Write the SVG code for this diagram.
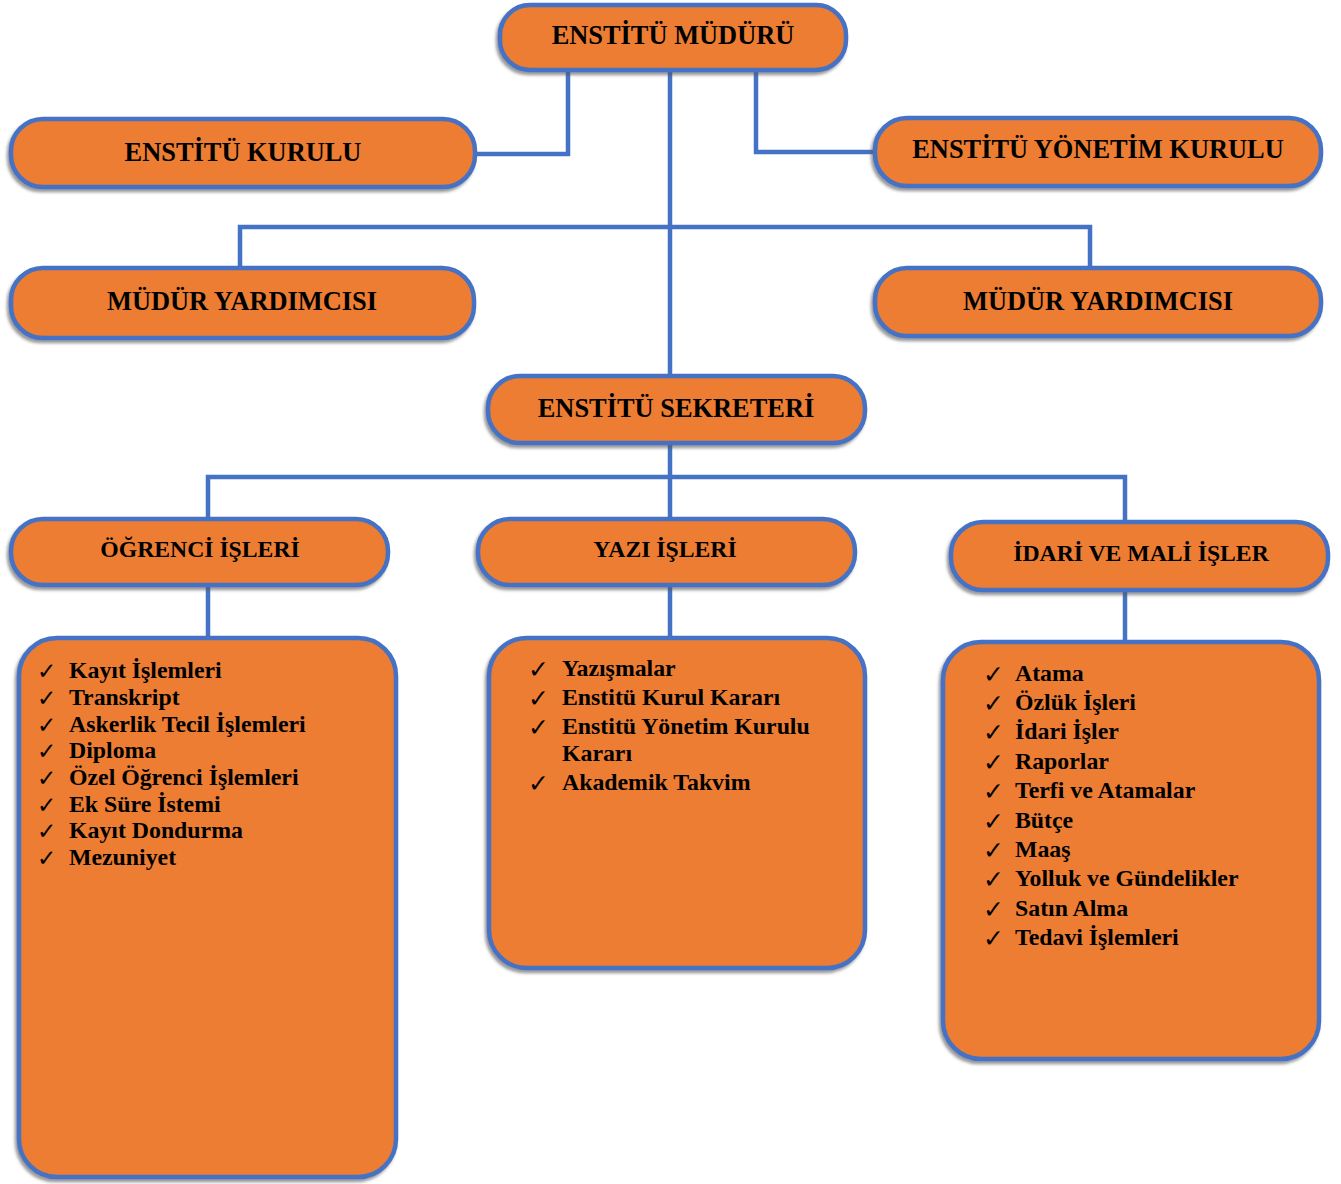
<svg xmlns="http://www.w3.org/2000/svg" width="1341" height="1184" viewBox="0 0 1341 1184">
<defs>
<filter id="sh" x="-5%" y="-10%" width="110%" height="125%">
<feDropShadow dx="-2" dy="3" stdDeviation="1.5" flood-color="#555" flood-opacity="0.6"/>
</filter>
</defs>
<style>
.box{fill:#ED7D31;stroke:#4472C4;stroke-width:4.5;filter:url(#sh)}
.t{font-family:"Liberation Serif","Times New Roman",serif;font-weight:bold;fill:#000;text-anchor:middle}
.h1{font-size:26.4px}
.h2{font-size:23.7px}
.li{font-family:"Liberation Serif","Times New Roman",serif;font-weight:bold;font-size:23.8px;fill:#000}
.ck{font-family:"DejaVu Sans",sans-serif;font-size:25px;fill:#000}
.ck2{font-family:"DejaVu Sans",sans-serif;font-size:23px;fill:#000}
.c{fill:none;stroke:#4472C4;stroke-width:4.5}
</style>
<rect width="1341" height="1184" fill="#fff"/>
<g id="connectors">
<path class="c" d="M670 70V375"/>
<path class="c" d="M568 70V154H475"/>
<path class="c" d="M756 70V152H875"/>
<path class="c" d="M240 267V227H1090V267"/>
<path class="c" d="M670 443V518"/>
<path class="c" d="M208 518V477H1125V521"/>
<path class="c" d="M208 585V637"/>
<path class="c" d="M670 585V637"/>
<path class="c" d="M1125 590V641"/>
</g>
<g id="mudur">
<rect class="box" x="500" y="5" width="346" height="65" rx="30"/>
<text class="t h1" x="673" y="44">ENSTİTÜ MÜDÜRÜ</text>
</g>
<g id="kurul">
<rect class="box" x="11" y="119" width="464" height="68" rx="32"/>
<text class="t h1" x="243" y="161">ENSTİTÜ KURULU</text>
</g>
<g id="yonetim">
<rect class="box" x="875" y="118" width="446" height="68" rx="32"/>
<text class="t h1" x="1098" y="158">ENSTİTÜ YÖNETİM KURULU</text>
</g>
<g id="yardimci1">
<rect class="box" x="11" y="268" width="463" height="70" rx="32"/>
<text class="t h1" x="242" y="310">MÜDÜR YARDIMCISI</text>
</g>
<g id="yardimci2">
<rect class="box" x="875" y="268" width="446" height="68" rx="32"/>
<text class="t h1" x="1098" y="310">MÜDÜR YARDIMCISI</text>
</g>
<g id="sekreter">
<rect class="box" x="488" y="376" width="377" height="67" rx="32"/>
<text class="t h1" x="676" y="417">ENSTİTÜ SEKRETERİ</text>
</g>
<g id="ogrenci">
<rect class="box" x="11" y="519" width="377" height="66" rx="32"/>
<text class="t h2" x="200" y="557">ÖĞRENCİ İŞLERİ</text>
</g>
<g id="yazi">
<rect class="box" x="478" y="519" width="377" height="66" rx="32"/>
<text class="t h2" x="665" y="557">YAZI İŞLERİ</text>
</g>
<g id="idari">
<rect class="box" x="951" y="522" width="377" height="68" rx="32"/>
<text class="t h2" x="1141" y="561">İDARİ VE MALİ İŞLER</text>
</g>
<g id="ogrenci-list">
<rect class="box" x="19" y="638" width="377" height="539" rx="38"/>
<g class="ck2">
<text x="37" y="679">✓</text><text x="37" y="706">✓</text><text x="37" y="733">✓</text><text x="37" y="759">✓</text><text x="37" y="786">✓</text><text x="37" y="813">✓</text><text x="37" y="839">✓</text><text x="37" y="866">✓</text>
</g>
<g class="li">
<text x="69" y="678">Kayıt İşlemleri</text>
<text x="69" y="705">Transkript</text>
<text x="69" y="732">Askerlik Tecil İşlemleri</text>
<text x="69" y="758">Diploma</text>
<text x="69" y="785">Özel Öğrenci İşlemleri</text>
<text x="69" y="812">Ek Süre İstemi</text>
<text x="69" y="838">Kayıt Dondurma</text>
<text x="69" y="865">Mezuniyet</text>
</g>
</g>
<g id="yazi-list">
<rect class="box" x="489" y="638" width="376" height="330" rx="38"/>
<g class="ck">
<text x="528" y="678">✓</text><text x="528" y="707">✓</text><text x="528" y="736">✓</text><text x="528" y="792">✓</text>
</g>
<g class="li">
<text x="562" y="676">Yazışmalar</text>
<text x="562" y="705">Enstitü Kurul Kararı</text>
<text x="562" y="734">Enstitü Yönetim Kurulu</text>
<text x="562" y="761">Kararı</text>
<text x="562" y="790">Akademik Takvim</text>
</g>
</g>
<g id="idari-list">
<rect class="box" x="943" y="642" width="376" height="417" rx="38"/>
<g class="ck">
<text x="983" y="683">✓</text><text x="983" y="712">✓</text><text x="983" y="741">✓</text><text x="983" y="771">✓</text><text x="983" y="800">✓</text><text x="983" y="830">✓</text><text x="983" y="859">✓</text><text x="983" y="888">✓</text><text x="983" y="918">✓</text><text x="983" y="947">✓</text>
</g>
<g class="li">
<text x="1015" y="681">Atama</text>
<text x="1015" y="710">Özlük İşleri</text>
<text x="1015" y="739">İdari İşler</text>
<text x="1015" y="769">Raporlar</text>
<text x="1015" y="798">Terfi ve Atamalar</text>
<text x="1015" y="828">Bütçe</text>
<text x="1015" y="857">Maaş</text>
<text x="1015" y="886">Yolluk ve Gündelikler</text>
<text x="1015" y="916">Satın Alma</text>
<text x="1015" y="945">Tedavi İşlemleri</text>
</g>
</g>
</svg>
